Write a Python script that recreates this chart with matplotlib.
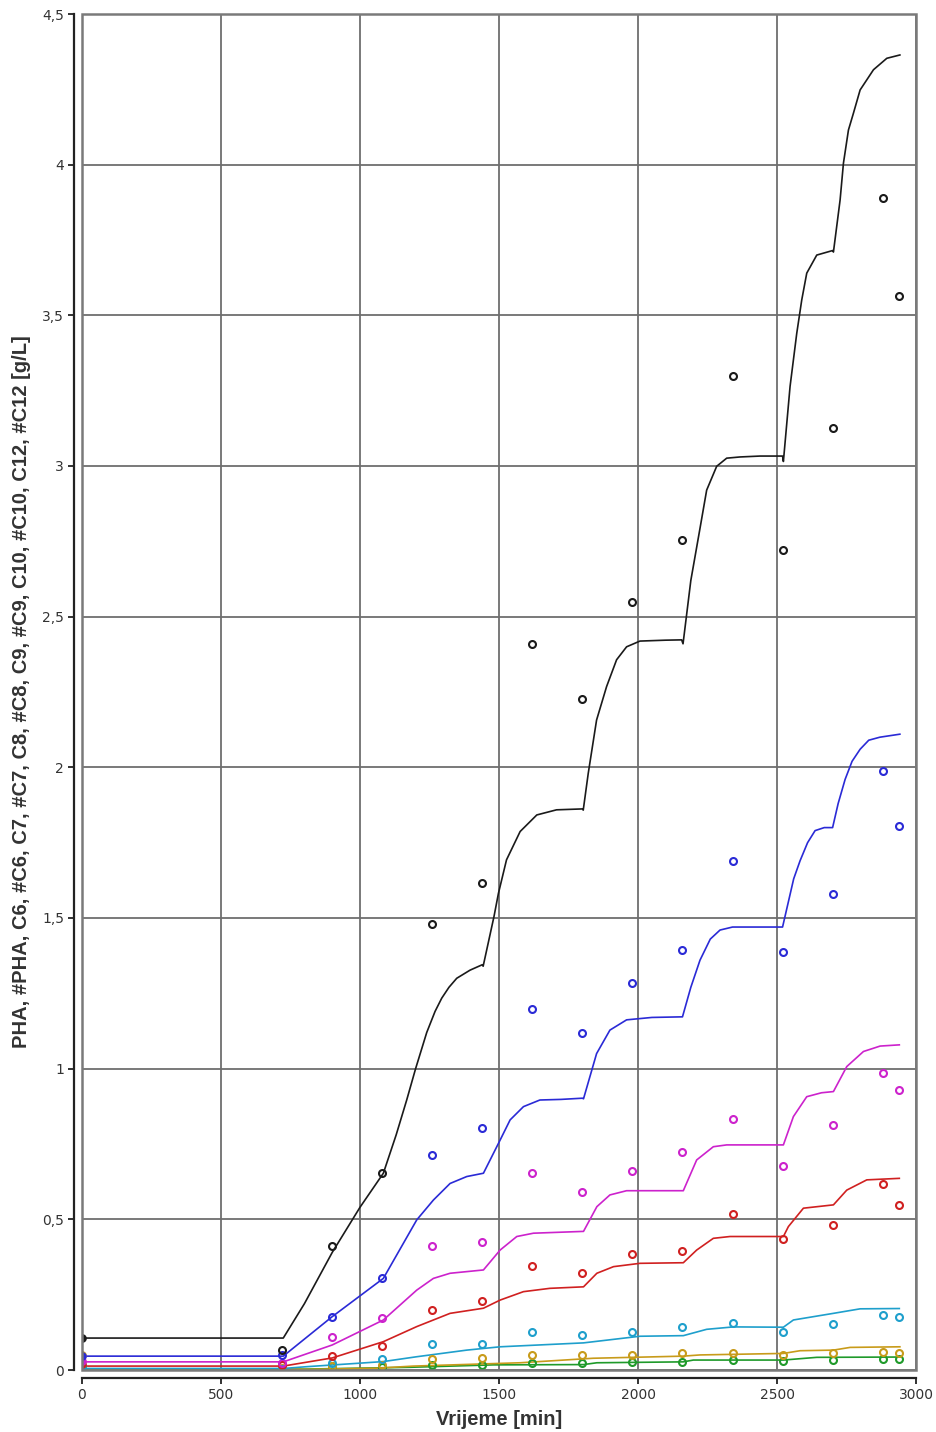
import matplotlib
matplotlib.use("Agg")
import matplotlib.pyplot as plt
from matplotlib.patches import Rectangle
from matplotlib.ticker import FuncFormatter

# ---------------- data ----------------
t_meas = [0, 720, 900, 1080, 1260, 1440, 1620, 1800, 1980, 2160, 2340, 2520, 2700, 2880, 2940]

pha_meas = [0.106, 0.066, 0.41, 0.654, 1.48, 1.616, 2.41, 2.227, 2.549, 2.755, 3.30, 2.72, 3.126, 3.89, 3.565]
c6_meas = [0.046, 0.05, 0.176, 0.305, 0.714, 0.803, 1.198, 1.118, 1.284, 1.394, 1.689, 1.387, 1.58, 1.988, 1.805]
c7_meas = [0.03, 0.022, 0.11, 0.173, 0.41, 0.425, 0.654, 0.59, 0.66, 0.723, 0.833, 0.677, 0.813, 0.985, 0.929]
c8_meas = [0.02, 0.015, 0.046, 0.08, 0.20, 0.229, 0.345, 0.322, 0.385, 0.395, 0.518, 0.435, 0.48, 0.618, 0.547]
c9_meas = [0.007, 0.004, 0.023, 0.037, 0.086, 0.086, 0.126, 0.116, 0.126, 0.143, 0.156, 0.126, 0.153, 0.183, 0.176]
c10_meas = [0.05, 0.006, 0.013, 0.017, 0.037, 0.04, 0.05, 0.05, 0.05, 0.056, 0.056, 0.05, 0.056, 0.06, 0.056]
c12_meas = [0.012, -0.002, 0.013, 0.01, 0.017, 0.017, 0.023, 0.023, 0.027, 0.027, 0.033, 0.03, 0.033, 0.037, 0.037]

pha_t = [0, 724, 800, 900, 1000, 1084, 1130, 1168, 1200, 1240, 1270, 1294, 1320, 1348, 1396, 1440, 1443,
         1482, 1498, 1527, 1576, 1636, 1707, 1800, 1803, 1821, 1851, 1887, 1923, 1959, 2007, 2100, 2157,
         2162, 2190, 2223, 2247, 2283, 2319, 2367, 2439, 2520, 2523, 2547, 2571, 2589, 2607, 2643, 2700,
         2703, 2727, 2739, 2757, 2775, 2799, 2847, 2895, 2942]
pha_v = [0.106, 0.106, 0.22, 0.39, 0.54, 0.653, 0.78, 0.896, 1.0, 1.12, 1.19, 1.234, 1.27, 1.30, 1.327, 1.345, 1.34,
         1.505, 1.582, 1.693, 1.787, 1.842, 1.859, 1.862, 1.858, 1.98, 2.157, 2.268, 2.357, 2.40, 2.419, 2.422, 2.423,
         2.41, 2.62, 2.793, 2.92, 2.999, 3.026, 3.03, 3.033, 3.033, 3.015, 3.264, 3.44, 3.551, 3.64, 3.70, 3.715,
         3.71, 3.883, 4.005, 4.115, 4.171, 4.248, 4.315, 4.353, 4.364]

c6_t = [0, 724, 900, 1084, 1204, 1264, 1324, 1384, 1444, 1504, 1540, 1588, 1647, 1723, 1800, 1804, 1851,
        1899, 1959, 2050, 2160, 2190, 2223, 2260, 2295, 2340, 2420, 2520, 2540, 2560, 2583, 2610, 2637,
        2670, 2700, 2720, 2745, 2770, 2799, 2830, 2870, 2942]
c6_v = [0.046, 0.046, 0.177, 0.304, 0.498, 0.564, 0.619, 0.642, 0.653, 0.763, 0.83, 0.874, 0.896, 0.898, 0.902, 0.90, 1.05,
        1.128, 1.162, 1.17, 1.172, 1.27, 1.36, 1.43, 1.46, 1.47, 1.47, 1.47, 1.55, 1.63, 1.69, 1.75, 1.79,
        1.80, 1.80, 1.88, 1.96, 2.02, 2.06, 2.09, 2.10, 2.11]

c7_t = [0, 724, 900, 1084, 1204, 1264, 1324, 1444, 1504, 1564, 1624, 1804, 1852, 1899, 1959, 2163, 2211,
        2271, 2319, 2523, 2559, 2607, 2660, 2703, 2751, 2811, 2871, 2940]
c7_v = [0.027, 0.027, 0.083, 0.166, 0.265, 0.304, 0.321, 0.332, 0.398, 0.443, 0.454, 0.46, 0.542, 0.581, 0.595, 0.595, 0.697,
        0.741, 0.747, 0.747, 0.841, 0.907, 0.92, 0.924, 1.007, 1.057, 1.075, 1.079]

c8_t = [0, 724, 900, 1084, 1204, 1324, 1444, 1504, 1588, 1683, 1804, 1852, 1912, 2007, 2163, 2211, 2271,
        2331, 2523, 2541, 2595, 2703, 2751, 2823, 2940]
c8_v = [0.013, 0.013, 0.04, 0.094, 0.144, 0.188, 0.205, 0.232, 0.26, 0.271, 0.276, 0.321, 0.343, 0.354, 0.356, 0.398, 0.437,
        0.443, 0.443, 0.476, 0.537, 0.548, 0.597, 0.631, 0.636]

c9_t = [0, 724, 808, 988, 1084, 1204, 1384, 1504, 1804, 2007, 2163, 2247, 2343, 2523, 2559, 2631, 2703,
        2799, 2940]
c9_v = [0.005, 0.005, 0.011, 0.022, 0.028, 0.044, 0.066, 0.077, 0.09, 0.112, 0.114, 0.135, 0.143, 0.142, 0.166, 0.177, 0.188,
        0.203, 0.204]

c10_t = [0, 724, 808, 1060, 1192, 1576, 1839, 2163, 2223, 2523, 2583, 2703, 2763, 2942]
c10_v = [0.004, 0.004, 0.002, 0.006, 0.013, 0.024, 0.039, 0.046, 0.05, 0.055, 0.064, 0.066, 0.075, 0.077]

c12_t = [0, 724, 808, 1180, 1480, 1804, 1852, 2163, 2199, 2523, 2643, 2942]
c12_v = [0.003, 0.003, 0.003, 0.009, 0.017, 0.018, 0.024, 0.027, 0.033, 0.033, 0.042, 0.043]

names = ["PHA", "C6", "C7", "C8", "C9", "C10", "C12"]
colors = ["#1a1a1a", "#2a2ad6", "#cc22cc", "#d02020", "#1e9fcc", "#c89b1a", "#1f9a2a"]

x_ticks = [0, 500, 1000, 1500, 2000, 2500, 3000]
y_ticks = [0, 0.5, 1, 1.5, 2, 2.5, 3, 3.5, 4, 4.5]

# ---------------- figure ----------------
W, H, DPI = 936, 1432, 100
fig = plt.figure(figsize=(W / DPI, H / DPI), dpi=DPI)
ax = fig.add_axes([82 / W, 1 - 1370 / H, (916 - 82) / W, (1370 - 14) / H])

model_t = [pha_t, c6_t, c7_t, c8_t, c9_t, c10_t, c12_t]
model_v = [pha_v, c6_v, c7_v, c8_v, c9_v, c10_v, c12_v]
meas = [pha_meas, c6_meas, c7_meas, c8_meas, c9_meas, c10_meas, c12_meas]

order = list(range(len(names)))[::-1]
for i in order:
    ax.plot(model_t[i], model_v[i], color=colors[i], lw=1.2, zorder=3)
for i in order:
    ax.plot(t_meas[1:], meas[i][1:], ls="none", marker="o", ms=5.0, mfc="none",
            mec=colors[i], mew=1.5, zorder=4)
    ax.plot(t_meas[:1], meas[i][:1], ls="none", marker="o", ms=5.0, mfc=colors[i],
            mec=colors[i], mew=1.2, zorder=4)

ax.set_xlim(0, 3000)
ax.set_ylim(0, 4.5)
ax.set_xticks(x_ticks)
ax.set_yticks(y_ticks)

def fmt(v, pos):
    s = ("%g" % v).replace(".", ",")
    return s

ax.yaxis.set_major_formatter(FuncFormatter(fmt))
ax.xaxis.set_major_formatter(FuncFormatter(fmt))

ax.grid(True, color="#6e6e6e", lw=1.3, zorder=1)
ax.set_axisbelow(True)

for s in ["top", "right"]:
    ax.spines[s].set_visible(False)
for s in ["left", "bottom"]:
    ax.spines[s].set_position(("outward", 6))
    ax.spines[s].set_color("#222222")
    ax.spines[s].set_linewidth(1.6)

ax.add_patch(Rectangle((0, 0), 1, 1, transform=ax.transAxes, fill=False,
                       edgecolor="#7a7a7a", lw=1.8, zorder=5, clip_on=False))

ax.tick_params(axis="both", direction="out", length=4, width=1.3, color="#222222",
               labelsize=10, labelcolor="#333333", pad=3)

ax.set_xlabel("Vrijeme [min]", fontsize=14.5, fontweight="bold",
              family=["Liberation Sans", "DejaVu Sans"], color="#333333", labelpad=6)
ax.set_ylabel("PHA, #PHA, C6, #C6, C7, #C7, C8, #C8, C9, #C9, C10, #C10, C12, #C12 [g/L]",
              fontsize=14.5, fontweight="bold", family=["Liberation Sans", "DejaVu Sans"],
              color="#333333", labelpad=8)

fig.savefig("out.png", dpi=DPI)
